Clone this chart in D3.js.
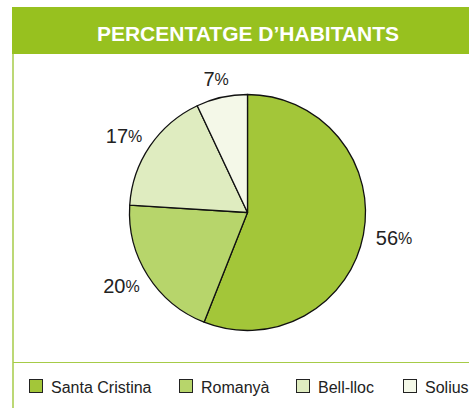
<!DOCTYPE html>
<html>
<head>
<meta charset="utf-8">
<title>Percentatge d'habitants</title>
<script src="https://cdnjs.cloudflare.com/ajax/libs/d3/7.8.5/d3.min.js"></script>
<style>
  body { margin: 0; background: #fff; }
  svg { display: block; font-family: "Liberation Sans", Arial, Helvetica, sans-serif; }
</style>
</head>
<body>
<script>
// data
var title = "PERCENTATGE D\u2019HABITANTS";
var pobles = ["Santa Cristina", "Romanyà", "Bell-lloc", "Solius"];
var percents = [56, 20, 17, 7];
var colors = ["#a3c639", "#b7d56b", "#dfecc0", "#f4f8e8"];

var width = 469, height = 408;
var cx = 247.5, cy = 212.5, radius = 118;

var svg = d3.select("body").append("svg")
    .attr("width", width)
    .attr("height", height);

// header band
svg.append("rect")
    .attr("x", 12).attr("y", 7)
    .attr("width", width).attr("height", 47)
    .attr("fill", "#97c11f");

svg.append("text")
    .attr("x", 248).attr("y", 41)
    .attr("text-anchor", "middle")
    .attr("fill", "#fff")
    .attr("font-weight", "bold")
    .attr("font-size", 21)
    .text(title);

// frame lines
svg.append("line")
    .attr("x1", 13).attr("x2", 13)
    .attr("y1", 54).attr("y2", height)
    .attr("stroke", "#a6cb47").attr("stroke-width", 1.5);

svg.append("line")
    .attr("x1", 13).attr("x2", width)
    .attr("y1", 362.5).attr("y2", 362.5)
    .attr("stroke", "#a6cb47").attr("stroke-width", 1);

// pie
var pie = d3.pie().sort(null).value(function(d) { return d; });
var arc = d3.arc().innerRadius(0).outerRadius(radius);
var arcs = pie(percents);

var g = svg.append("g")
    .attr("transform", "translate(" + cx + "," + cy + ")");

g.selectAll("path.slice")
    .data(arcs)
  .enter().append("path")
    .attr("class", "slice")
    .attr("d", arc)
    .attr("fill", function(d, i) { return colors[i]; })
    .attr("stroke", "#111")
    .attr("stroke-width", 1.3)
    .attr("stroke-linejoin", "round");

// labels, pushed out so the text box sits just outside the rim
var labels = g.selectAll("text.lab")
    .data(arcs)
  .enter().append("text")
    .attr("class", "lab")
    .attr("text-anchor", "middle")
    .attr("dominant-baseline", "central")
    .attr("fill", "#222")
    .attr("font-size", 20);

labels.append("tspan").text(function(d) { return d.data; });
labels.append("tspan").attr("font-size", 16).text("%");

labels.each(function(d) {
  var box = this.getBBox();
  var a = (d.startAngle + d.endAngle) / 2;
  var s = Math.sin(a), c = -Math.cos(a);
  var r = radius + 13;
  var x = r * s + (box.width / 2) * s;
  var y = r * c + 6 * c;
  d3.select(this).attr("x", x).attr("y", y);
});

// legend
var legendX = [29, 179, 296, 403];
var legend = svg.selectAll("g.leg")
    .data(pobles)
  .enter().append("g")
    .attr("class", "leg")
    .attr("transform", function(d, i) { return "translate(" + legendX[i] + ",379)"; });

legend.append("rect")
    .attr("x", 0.5).attr("y", 0.5)
    .attr("width", 13).attr("height", 13)
    .attr("fill", function(d, i) { return colors[i]; })
    .attr("stroke", "#222").attr("stroke-width", 1);

legend.append("text")
    .attr("x", 22).attr("y", 13.5)
    .attr("font-size", 16)
    .attr("fill", "#222")
    .text(function(d) { return d; });
</script>
</body>
</html>
